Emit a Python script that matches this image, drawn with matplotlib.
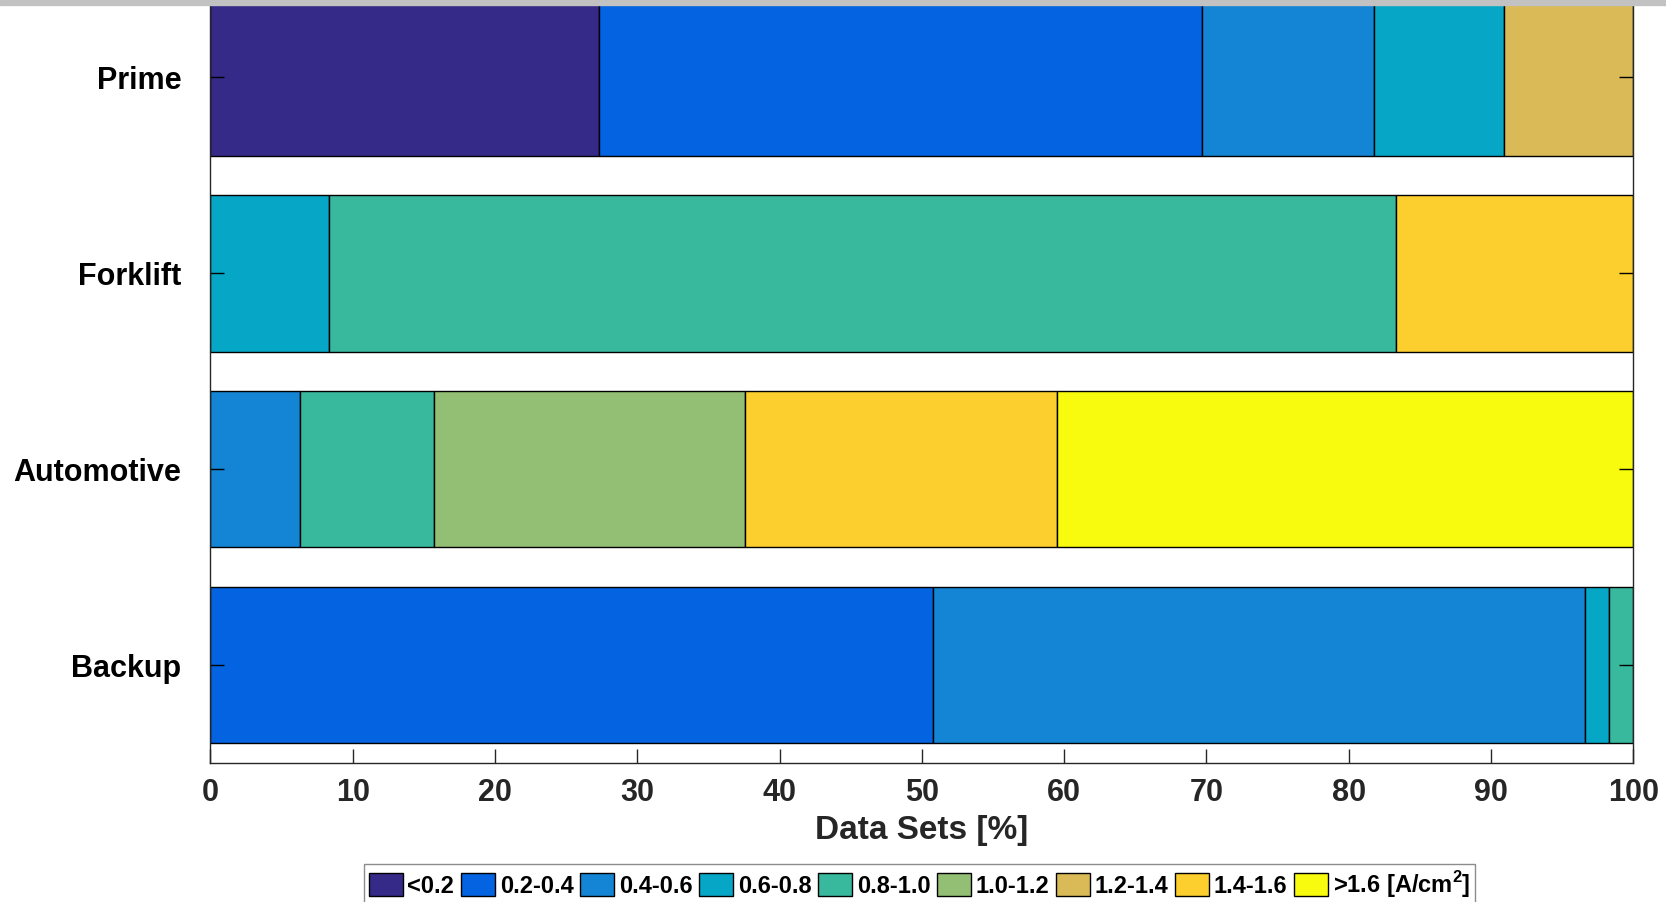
import numpy as np
import matplotlib
matplotlib.use("Agg")
import matplotlib.pyplot as plt
from matplotlib.patches import Patch, Rectangle

plt.rcParams['font.family'] = ['Liberation Sans', 'DejaVu Sans']
plt.rcParams['font.weight'] = 'bold'
plt.rcParams['mathtext.fontset'] = 'custom'
plt.rcParams['mathtext.rm'] = 'Liberation Sans:bold'
plt.rcParams['mathtext.bf'] = 'Liberation Sans:bold'

# applications, bottom to top
categories = ['Backup', 'Automotive', 'Forklift', 'Prime']
bins = ['<0.2', '0.2-0.4', '0.4-0.6', '0.6-0.8', '0.8-1.0',
        '1.0-1.2', '1.2-1.4', '1.4-1.6', r'>1.6 [A/cm$^{2}$]']
# share of data sets per current density bin [%]
backup = [0, 50.8, 45.8, 1.7, 1.7, 0, 0, 0, 0]
automotive = [0, 0, 6.3, 0, 9.4, 21.9, 0, 21.9, 40.5]
forklift = [0, 0, 0, 8.3, 75.0, 0, 0, 16.7, 0]
prime = [27.3, 42.4, 12.1, 9.1, 0, 0, 9.1, 0, 0]

# parula(9)
colors = ['#352a87', '#0363e1', '#1485d4', '#06a7c6', '#38b99e',
          '#92bf73', '#d9ba56', '#fcce2e', '#f9fb0e']

shares = np.array([backup, automotive, forklift, prime])
ypos = np.arange(1, len(categories) + 1)

fig = plt.figure(figsize=(16.66, 9.02), dpi=100)
ax = fig.add_axes([0.1263, 0.1541, 0.854, 0.8688])

lefts = np.zeros(len(categories))
for j, lab in enumerate(bins):
    widths = shares[:, j]
    keep = widths > 0
    ax.barh(ypos[keep], widths[keep], left=lefts[keep], height=0.8,
            color=colors[j], edgecolor='black', linewidth=1.0)
    lefts += widths

ax.set_xlim(0, 100)
ax.set_ylim(0.5, 4.5)
ax.set_xticks(np.arange(0, 101, 10))
ax.set_yticks(ypos)
ax.set_yticklabels(categories, fontsize=22, fontweight='bold', color='black')
ax.tick_params(axis='x', direction='in', length=10, width=1, pad=11,
               labelsize=22, colors='#262626', top=True)
ax.tick_params(axis='y', direction='in', length=10, width=1, pad=21,
               right=True)
for lbl in ax.get_xticklabels():
    lbl.set_fontweight('bold')
for sp in ax.spines.values():
    sp.set_color('#262626')
    sp.set_linewidth(1.0)

ax.set_xlabel('Data Sets [%]', fontsize=24, fontweight='bold',
              color='#262626', labelpad=5)

handles = [Patch(facecolor=c, edgecolor='black', linewidth=1.0) for c in colors]
leg = fig.legend(handles, bins, loc='upper left',
                 bbox_to_anchor=(0.2185, 0.0421), ncol=len(bins),
                 fontsize=17, frameon=True, fancybox=False, framealpha=1,
                 edgecolor='#8c8c8c', borderaxespad=0, borderpad=0.2,
                 handlelength=1.44, handleheight=1.1, handletextpad=0.2,
                 columnspacing=0.28)
leg.get_frame().set_linewidth(1.0)
for t in leg.get_texts():
    t.set_fontweight('bold')

# grey strip along the top edge
fig.add_artist(Rectangle((0, 1 - 5 / 902), 1, 5 / 902,
                         transform=fig.transFigure, color='#c2c2c2',
                         zorder=10))

fig.savefig('out.png', dpi=100)
